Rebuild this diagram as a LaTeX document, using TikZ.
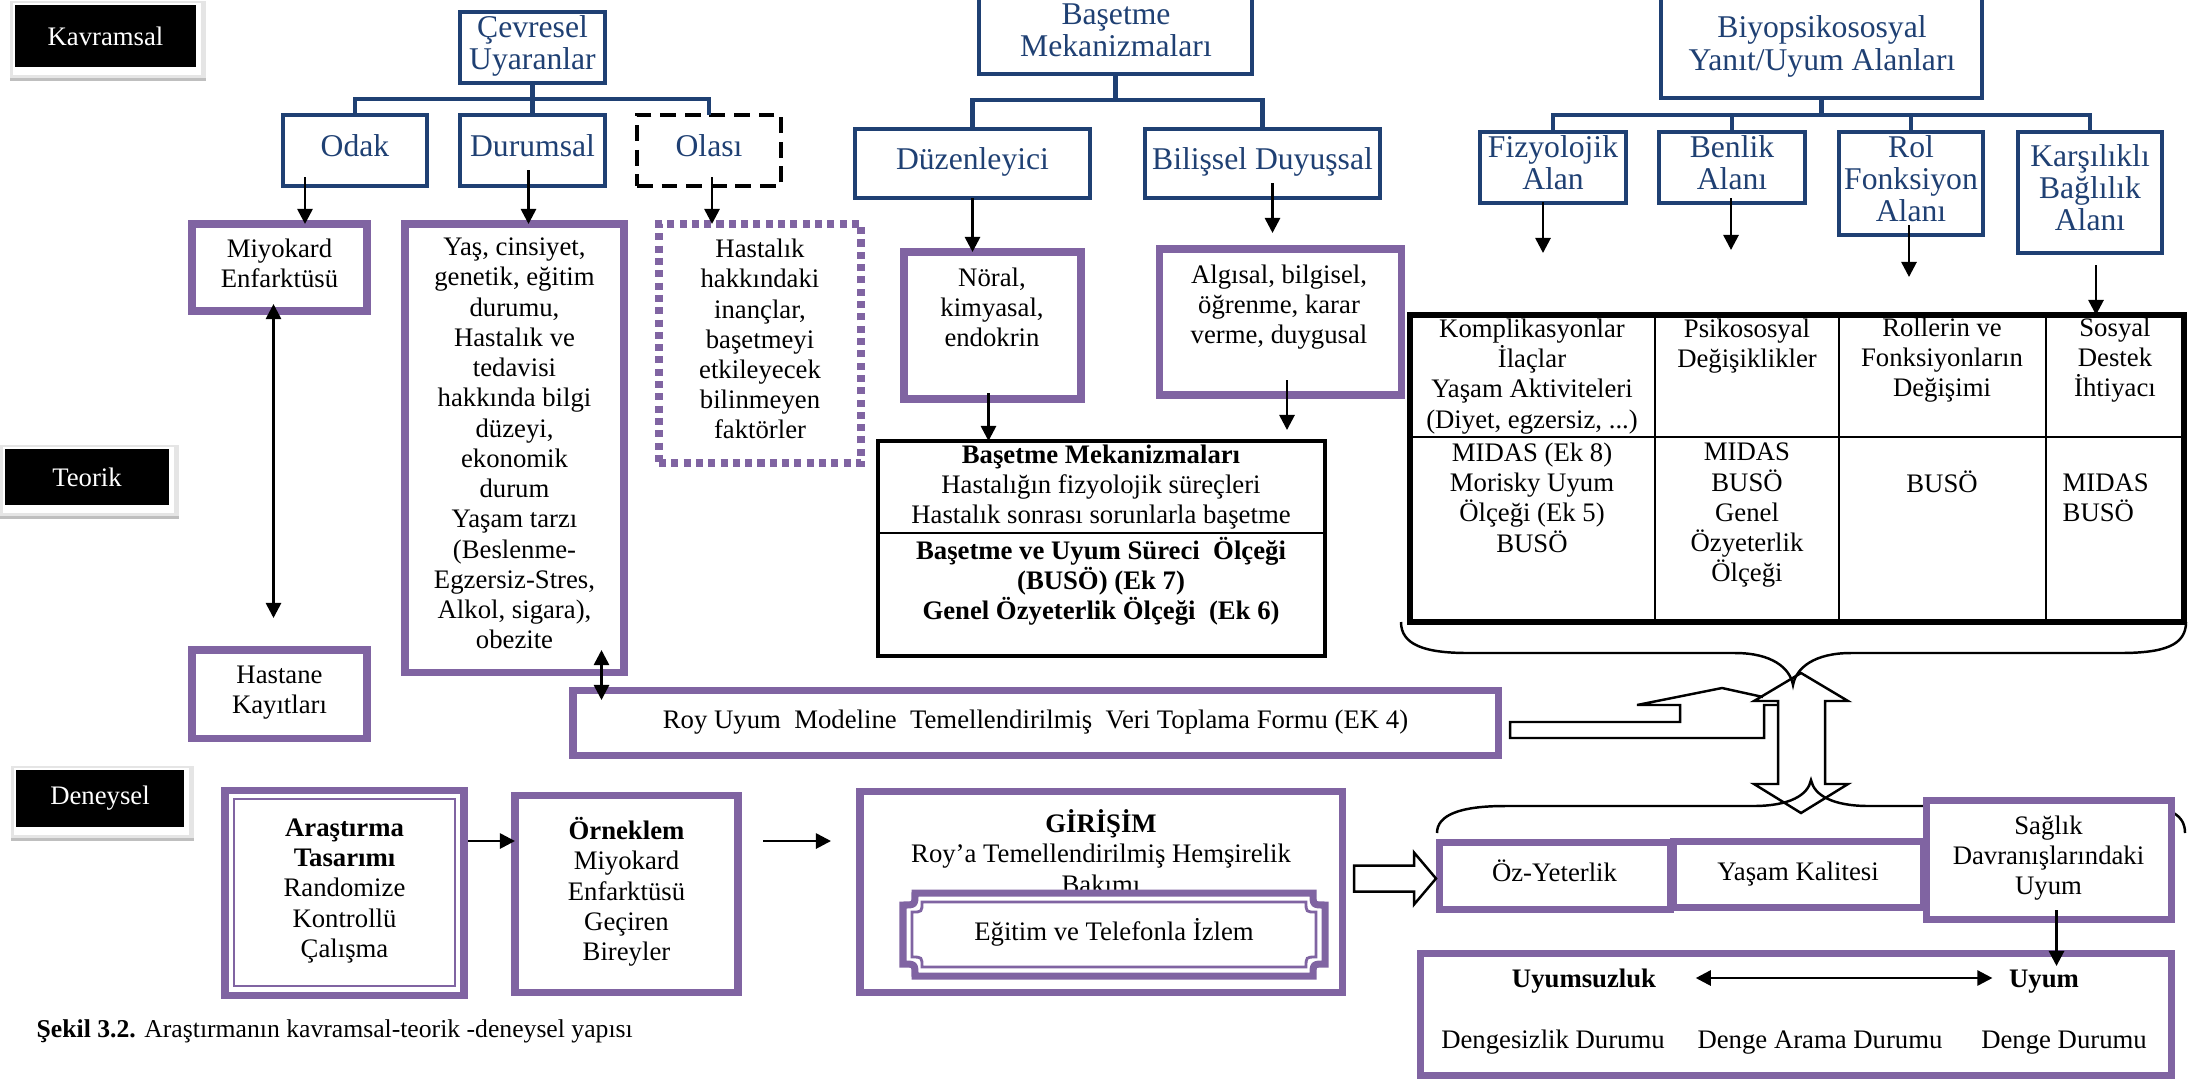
\documentclass[tikz,border=0pt]{standalone}
\usepackage{fontspec}
\setmainfont{Liberation Serif}
\usetikzlibrary{arrows.meta,calc}
\definecolor{navy}{RGB}{31,64,115}
\definecolor{purp}{RGB}{128,100,162}
\newcommand\bodyfont{\fontsize{7.6}{8.6}\selectfont}
\newcommand\headfont{\fontsize{9}{9.2}\selectfont}
\newcommand\capfont{\fontsize{7.3}{8.6}\selectfont}
\newcommand\mkbox[7]{%
 \pgfmathsetmacro\bxw{(#5)-(#3)}%
 \pgfmathsetmacro\bxh{(#6)-(#4)}%
 \node[#1, minimum width=\bxw*0.01cm, minimum height=\bxh*0.01cm] (#2) at ({((#3)+(#5))/2},{((#4)+(#6))/2}) {#7};}
\newcommand\plaque[6][]{%
 \draw[#1] (#2+#6,#3) -- (#4-#6,#3) .. controls (#4-#6,#3+#6) .. (#4,#3+#6) -- (#4,#5-#6) .. controls (#4-#6,#5-#6) .. (#4-#6,#5) -- (#2+#6,#5) .. controls (#2+#6,#5-#6) .. (#2,#5-#6) -- (#2,#3+#6) .. controls (#2+#6,#3+#6) .. (#2+#6,#3) -- cycle;}
\newcommand\lblbox[6]{%
 \fill[gray!20] (#2-5,#3-4) rectangle (#4+10,#5+14);
 \fill[gray!50] (#2-5,#5+11) rectangle (#4+10,#5+14);
 \fill[white] (#2-2,#3-2) rectangle (#4+5,#5+8);
 \mkbox{lbl}{#1}{#2}{#3}{#4}{#5}{#6}}
\begin{document}
\begin{tikzpicture}[x=0.01cm,y=-0.01cm,
 nbox/.style={draw=navy, line width=1.4pt, inner sep=0pt, outer sep=0pt, align=center, font=\headfont, text=navy, execute at begin node=\strut, execute at end node=\strut},
 htxt/.style={align=center, font=\headfont, text=navy, inner sep=0pt, execute at begin node=\strut, execute at end node=\strut},
 pbox/.style={draw=purp, line width=2pt, fill=white, inner sep=0pt, outer sep=0pt, align=center, font=\bodyfont, execute at begin node=\strut, execute at end node=\strut},
 kbox/.style={draw=black, line width=1.3pt, inner sep=0pt, outer sep=0pt},
 txt/.style={align=center, font=\bodyfont, inner sep=0pt, execute at begin node=\strut, execute at end node=\strut},
 lbl/.style={fill=black, text=white, font=\bodyfont, inner sep=0pt, outer sep=0pt},
 arr/.style={line width=0.75pt, -{Triangle[length=4.3pt,width=4.3pt]}},
 darr/.style={line width=0.75pt, {Triangle[length=4.3pt,width=4.3pt]}-{Triangle[length=4.3pt,width=4.3pt]}},
 tree/.style={draw=navy, line width=1.4pt},
 outl/.style={line width=0.7pt}]
\useasboundingbox (0,0) rectangle (2194,1084);

% level labels
\lblbox{kav}{15}{5}{196}{67}{Kavramsal}
\lblbox{teo}{5}{449}{169}{505}{Teorik}
\lblbox{den}{16}{770}{184}{827}{Deneysel}

% ---- Cevresel tree
\mkbox{nbox}{cev}{460}{12}{605}{83}{Çevresel\\Uyaranlar}
\mkbox{nbox}{odak}{283}{115}{427}{186}{Odak}
\mkbox{nbox}{dur}{460}{115}{605}{186}{Durumsal}
\mkbox{nbox,draw=black,dash pattern=on 4.5pt off 2.5pt}{olasi}{637}{115}{781}{186}{Olası}
\draw[tree] (cev.south) -- ++(0,16) coordinate (cj);
\draw[tree] (odak.north) |- (cj) -| (olasi.north);
\draw[tree] (cj) -- (dur.north);

\mkbox{pbox}{miyo}{192}{224}{367}{311}{Miyokard\\Enfarktüsü}
\mkbox{pbox}{yas}{405}{224}{624}{672}{Yaş, cinsiyet,\\genetik, eğitim\\durumu,\\Hastalık ve\\tedavisi\\hakkında bilgi\\düzeyi,\\ekonomik\\durum\\Yaşam tarzı\\(Beslenme-\\Egzersiz-Stres,\\Alkol, sigara),\\obezite}
\mkbox{pbox,dash pattern=on 2pt off 1.5pt}{olb}{659}{224}{861}{463}{Hastalık\\hakkındaki\\inançlar,\\başetmeyi\\etkileyecek\\bilinmeyen\\faktörler}
\mkbox{pbox}{hast}{192}{650}{367}{738}{Hastane\\Kayıtları}
\mkbox{pbox}{roy}{573}{690}{1498}{755}{Roy Uyum\ \ Modeline\ \ Temellendirilmiş\ \ Veri Toplama Formu (EK 4)}

% ---- Basetme tree
\mkbox{nbox}{bm}{979}{-25}{1252}{74}{}
\node[htxt] (bmtxt) at (1116,35) {Başetme\\Mekanizmaları};
\mkbox{nbox}{duz}{855}{129}{1090}{198}{Düzenleyici}
\mkbox{nbox}{bil}{1145}{129}{1380}{198}{Bilişsel Duyuşsal}
\draw[tree] (bm.south) -- ++(0,26) coordinate (mj);
\draw[tree] (duz.north) |- (mj) -| (bil.north);

\mkbox{pbox}{noral}{904}{252}{1081}{399}{}
\node[txt] (noralt) at (992,312) {Nöral,\\kimyasal,\\endokrin};
\mkbox{pbox}{algi}{1159}{249}{1401}{395}{}
\node[txt] (algit) at (1279,309) {Algısal, bilgisel,\\öğrenme, karar\\verme, duygusal};
\mkbox{kbox}{bmt}{878}{441}{1325}{656}{}
\draw[line width=0.6pt] (878,533) -- (1325,533);
\node[txt] (bmt1) at (1101,489) {\textbf{Başetme Mekanizmaları}\\Hastalığın fizyolojik süreçleri\\Hastalık sonrası sorunlarla başetme};
\node[txt,font=\bodyfont\bfseries] (bmt2) at (1101,583) {Başetme ve Uyum Süreci\ \ Ölçeği\\(BUSÖ) (Ek 7)\\Genel Özyeterlik Ölçeği\ \ (Ek 6)};

% ---- Biyopsikososyal tree
\mkbox{nbox}{biyo}{1661}{-25}{1982}{98}{}
\node[htxt] (biyotxt) at (1822,48) {Biyopsikososyal\\Yanıt/Uyum Alanları};
\mkbox{nbox}{fiz}{1480}{132}{1626}{203}{Fizyolojik\\Alan}
\mkbox{nbox}{ben}{1659}{132}{1805}{203}{Benlik\\Alanı}
\mkbox{nbox}{rol}{1839}{132}{1983}{235}{Rol\\Fonksiyon\\Alanı}
\mkbox{nbox}{kar}{2018}{132}{2162}{253}{Karşılıklı\\Bağlılık\\Alanı}
\draw[tree] (biyo.south) -- ++(0,17) coordinate (bj);
\draw[tree] (fiz.north) |- (bj) -| (kar.north);
\draw[tree] (ben.north) -- (ben.north |- bj);
\draw[tree] (rol.north) -- (rol.north |- bj);

% ---- table
\mkbox{kbox,line width=1.5pt}{tbl}{1410}{315}{2184}{622}{}
\draw[line width=0.6pt] (1655,315) -- (1655,622) (1839,315) -- (1839,622) (2046,315) -- (2046,622) (1410,437) -- (2184,437);
\node[txt] (c11) at (1532,378) {Komplikasyonlar\\İlaçlar\\Yaşam Aktiviteleri\\(Diyet, egzersiz, ...)};
\node[txt] (c12) at (1747,348) {Psikososyal\\Değişiklikler};
\node[txt] (c13) at (1942,362) {Rollerin ve\\Fonksiyonların\\Değişimi};
\node[txt] (c14) at (2115,362) {Sosyal\\Destek\\İhtiyacı};
\node[txt] (c21) at (1532,502) {MIDAS (Ek 8)\\Morisky Uyum\\Ölçeği (Ek 5)\\BUSÖ};
\node[txt] (c22) at (1747,517) {MIDAS\\BUSÖ\\Genel\\Özyeterlik\\Ölçeği};
\node[txt] (c23) at (1942,486) {BUSÖ};
\node[txt,align=left,anchor=west] (c24) at (2062,502) {MIDAS\\BUSÖ};

% braces and block arrows
\draw[outl] (1401,622) .. controls (1401,645) and (1425,653) .. (1468,653) -- (1735,653) .. controls (1772,653) and (1790,668) .. (1793,685) .. controls (1796,668) and (1814,653) .. (1851,653) -- (2120,653) .. controls (2165,653) and (2186,645) .. (2186,622);
\draw[outl] (1437,833) .. controls (1437,815) and (1460,806) .. (1505,806) -- (1753,806) .. controls (1790,806) and (1808,795) .. (1811,780) .. controls (1814,795) and (1832,806) .. (1869,806) -- (2135,806) .. controls (2170,806) and (2185,815) .. (2185,833);
\draw[outl] (1801,673) -- (1848,701) -- (1825,701) -- (1825,784) -- (1848,784) -- (1801,813) -- (1754,784) -- (1778,784) -- (1778,701) -- (1754,701) -- cycle;
\draw[outl] (1763,697) -- (1722,688) -- (1637,705) -- (1680,705) -- (1680,722) -- (1510,722) -- (1510,738) -- (1764,738) -- (1764,705) -- (1778,705);

% ---- lower right
\mkbox{pbox}{oz}{1439}{842}{1670}{909}{Öz-Yeterlik}
\mkbox{pbox}{yk}{1673}{841}{1923}{907}{Yaşam Kalitesi}
\mkbox{pbox}{sag}{1926}{800}{2171}{919}{Sağlık\\Davranışlarındaki\\Uyum}
\mkbox{pbox}{uy}{1420}{953}{2171}{1075}{}
\node[txt,font=\bodyfont\bfseries] (uyz) at (1584,981) {Uyumsuzluk};
\node[txt,font=\bodyfont\bfseries] (uyu) at (2044,981) {Uyum};
\node[txt] (d1) at (1553,1042) {Dengesizlik Durumu};
\node[txt] (d2) at (1820,1042) {Denge Arama Durumu};
\node[txt] (d3) at (2064,1042) {Denge Durumu};
\draw[outl] ($(oz.west)+(-3,3)$) -- ++(-22,-26) -- ++(0,13) -- ++(-60,0) -- ++(0,26) -- ++(60,0) -- ++(0,13) -- cycle;

% ---- bottom left
\mkbox{pbox}{aras}{225}{790}{464}{995}{\textbf{Araştırma}\\\textbf{Tasarımı}\\Randomize\\Kontrollü\\Çalışma}
\draw[purp, line width=0.8pt] ($(aras.north west)+(9,9)$) rectangle ($(aras.south east)+(-9,-9)$);
\mkbox{pbox}{orn}{515}{795}{738}{992}{\textbf{Örneklem}\\Miyokard\\Enfarktüsü\\Geçiren\\Bireyler}
\mkbox{pbox}{gir}{860}{791}{1342}{992}{}
\node[txt] (girt) at (1101,856) {\textbf{GİRİŞİM}\\Roy'a Temellendirilmiş Hemşirelik\\Bakımı};
\plaque[draw=purp,line width=2pt,fill=white]{903}{893}{1325}{976}{12}
\plaque[draw=purp,line width=0.8pt]{912}{902}{1316}{967}{10}
\node[txt] (egit) at (1114,934) {Eğitim ve Telefonla İzlem};

\node[font=\capfont, anchor=base west, inner sep=0pt] (cap) at (36,1037) {\textbf{Şekil 3.2.} Araştırmanın kavramsal-teorik -deneysel yapısı};

% ---- arrows
\coordinate (a1s) at ($(odak.south)+(-50,-9)$);
\draw[arr] (a1s) -- (a1s |- miyo.north);
\coordinate (a2s) at ($(dur.south)+(-4,-16)$);
\draw[arr] (a2s) -- (a2s |- yas.north);
\coordinate (a3s) at ($(olasi.south)+(3,-9)$);
\draw[arr] (a3s) -- (a3s |- olb.north);
\coordinate (a4s) at ($(miyo.south)+(-6,-7)$);
\coordinate (a4e) at ($(hast.north)+(-6,-32)$);
\draw[darr] (a4s) -- (a4e);
\coordinate (a5s) at ($(yas.south)+(87,-22)$);
\coordinate (a5e) at ($(a5s |- roy.north)+(0,10)$);
\draw[darr] (a5s) -- (a5e);
\draw[arr] (duz.south) -- (duz.south |- noral.north);
\coordinate (a7s) at ($(bil.south)+(10,-15)$);
\coordinate (a7e) at ($(a7s |- algi.north)+(0,-16)$);
\draw[arr] (a7s) -- (a7e);
\coordinate (a8s) at ($(noral.south)+(-4,-6)$);
\draw[arr] (a8s) -- (a8s |- bmt.north);
\coordinate (a9s) at ($(algi.south)+(7,-15)$);
\coordinate (a9e) at ($(a9s |- bmt.north)+(0,-11)$);
\draw[arr] (a9s) -- (a9e);
\coordinate (a10s) at ($(fiz.south)+(-10,-1)$);
\draw[arr] (a10s) -- ++(0,51);
\coordinate (a11s) at ($(ben.south)+(-1,-5)$);
\draw[arr] (a11s) -- ++(0,52);
\coordinate (a12s) at ($(rol.south)+(-2,-10)$);
\draw[arr] (a12s) -- ++(0,52);
\coordinate (a13s) at ($(kar.south)+(6,12)$);
\draw[arr] (a13s) -- (a13s |- tbl.north);
\coordinate (a14s) at ($(aras.north east)+(4,51)$);
\draw[arr] (a14s) -- (a14s -| orn.west);
\coordinate (a15s) at ($(orn.north east)+(25,46)$);
\coordinate (a15e) at ($(a15s -| gir.west)+(-29,0)$);
\draw[arr] (a15s) -- (a15e);
\coordinate (a16s) at ($(sag.south)+(8,-9)$);
\coordinate (a16e) at ($(a16s |- uy.north)+(0,13)$);
\draw[arr] (a16s) -- (a16e);
\draw[darr] ($(uyz.east)+(39,-3)$) -- ($(uyu.west)+(-16,-3)$);
\end{tikzpicture}
\end{document}
